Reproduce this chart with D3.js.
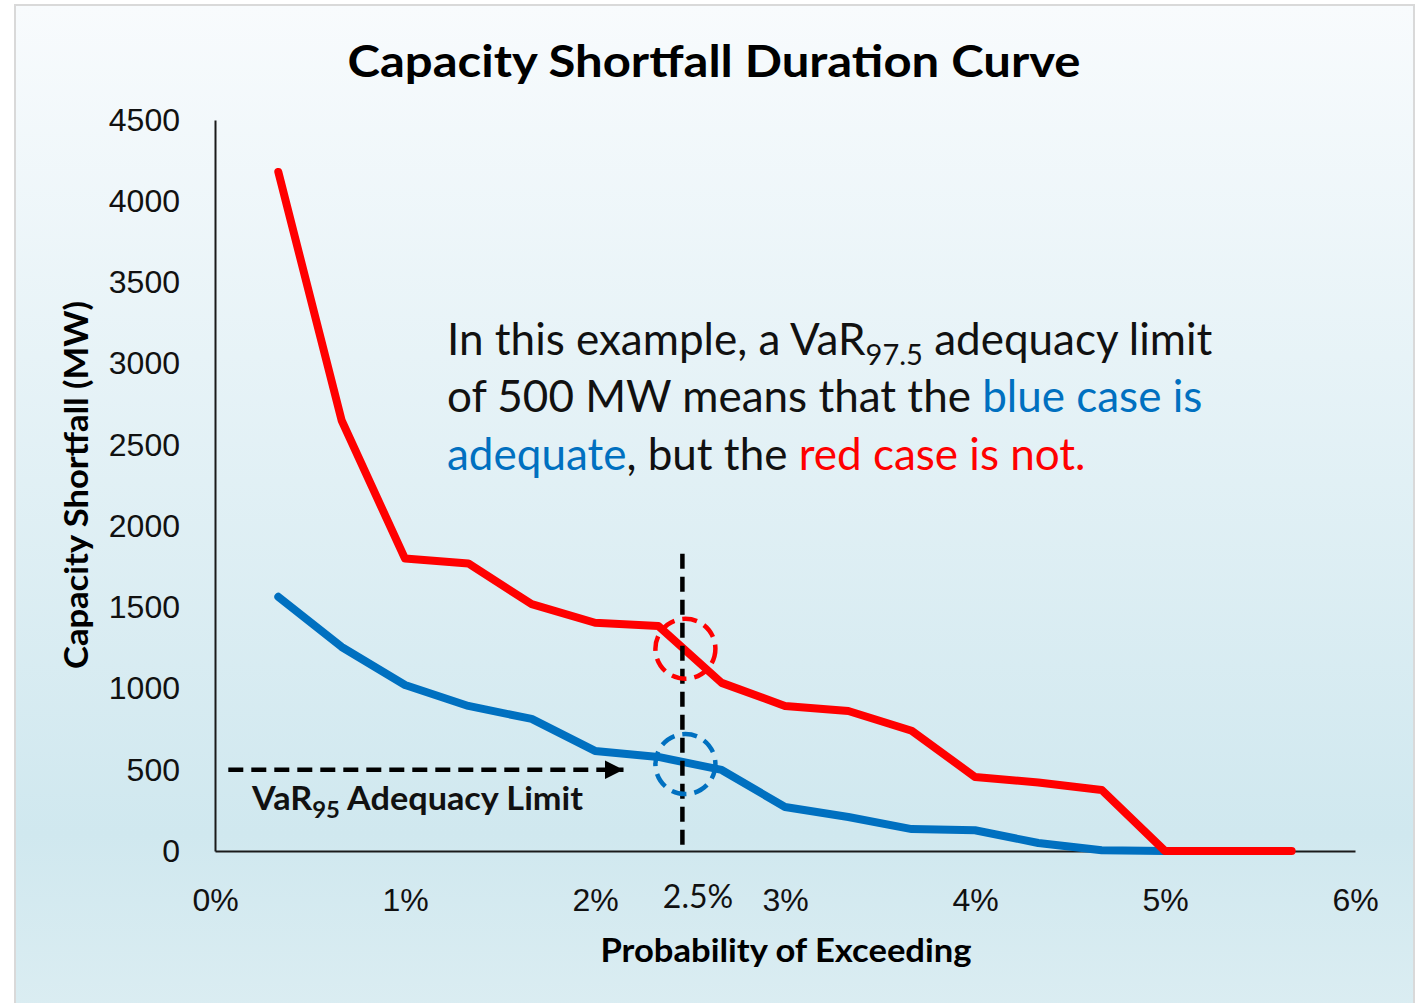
<!DOCTYPE html>
<html>
<head>
<meta charset="utf-8">
<script src="https://cdn.jsdelivr.net/npm/d3@7"></script>
<style>
  body { margin: 0; background: #fff; }
  svg { display: block; font-family: Lato, "Open Sans", sans-serif; }
</style>
</head>
<body>
<div id="chart"></div>
<script>
// probability of exceeding (%) for each point
const probs = [1/3, 2/3, 1, 4/3, 5/3, 2, 7/3, 8/3, 3, 10/3, 11/3, 4, 13/3, 14/3, 5, 16/3, 17/3];
// red case shortfall (MW)
const redValues = [4180, 2650, 1800, 1770, 1520, 1405, 1385, 1035, 893, 862, 740, 456, 422, 376, 0, 0, 0];
// blue case shortfall (MW)
const blueValues = [1565, 1256, 1022, 893, 813, 616, 579, 499, 271, 209, 135, 128, 49, 5, 0];
const yTicks = [0, 500, 1000, 1500, 2000, 2500, 3000, 3500, 4000, 4500];
const xTicks = [0, 1, 2, 3, 4, 5, 6];
const limitValue = 500;      // VaR95 adequacy limit (MW)
const limitProb = 2.46;      // dashed vertical marker
const extraTick = 2.5;

const width = 1419, height = 1003;
const margin = {top: 120, right: 64, bottom: 152, left: 215};
const innerW = width - margin.left - margin.right;
const innerH = height - margin.top - margin.bottom;

const svg = d3.select("#chart").append("svg")
    .attr("width", width)
    .attr("height", height);

const defs = svg.append("defs");
const grad = defs.append("linearGradient")
    .attr("id", "bg")
    .attr("x1", 0).attr("y1", 0).attr("x2", 0).attr("y2", 1);
grad.append("stop").attr("offset", "0%").attr("stop-color", "#f8fbfd");
grad.append("stop").attr("offset", "82%").attr("stop-color", "#d0e8ef");
grad.append("stop").attr("offset", "100%").attr("stop-color", "#dbedf2");

defs.append("marker")
    .attr("id", "arrow")
    .attr("viewBox", "0 0 10 10")
    .attr("refX", 10).attr("refY", 5)
    .attr("markerWidth", 4.2).attr("markerHeight", 4.2)
    .attr("markerUnits", "strokeWidth")
    .attr("orient", "auto")
  .append("path")
    .attr("d", "M0,0L10,5L0,10Z")
    .attr("fill", "#000");

svg.append("rect")
    .attr("x", 15).attr("y", 5)
    .attr("width", 1399).attr("height", 1010)
    .attr("fill", "url(#bg)")
    .attr("stroke", "#d9d9d9")
    .attr("stroke-width", 2);

svg.append("text")
    .attr("x", 714).attr("y", 77)
    .attr("text-anchor", "middle")
    .style("font-size", "44px")
    .style("font-weight", "bold")
    .attr("textLength", 733)
    .attr("lengthAdjust", "spacingAndGlyphs")
    .text("Capacity Shortfall Duration Curve");

const g = svg.append("g")
    .attr("transform", `translate(${margin.left},${margin.top})`);

const x = d3.scaleLinear().domain([0, 6]).range([0, innerW]);
const y = d3.scaleLinear().domain([0, 4500]).range([innerH, 0]);

// axes
const xAxis = g.append("g")
    .attr("class", "x axis")
    .attr("transform", `translate(0,${innerH})`)
    .call(d3.axisBottom(x).tickValues(xTicks).tickSize(0).tickPadding(37)
        .tickFormat(d => d + "%"));
xAxis.select(".domain").attr("stroke", "#1a1a1a").attr("stroke-width", 2);
xAxis.selectAll("text")
    .style("font-size", "32px")
    .attr("fill", "#111");

const yAxis = g.append("g")
    .attr("class", "y axis")
    .call(d3.axisLeft(y).tickValues(yTicks).tickSize(0).tickPadding(35)
        .tickFormat(d3.format("d")));
yAxis.select(".domain").attr("stroke", "#1a1a1a").attr("stroke-width", 2);
yAxis.selectAll("text")
    .style("font-size", "32px")
    .attr("fill", "#111");

// extra 2.5% label
g.append("text")
    .attr("x", x(extraTick) + 8)
    .attr("y", innerH + 57)
    .attr("text-anchor", "middle")
    .style("font-size", "32px")
    .attr("fill", "#111")
    .text(extraTick + "%");

// axis titles
svg.append("text")
    .attr("x", 786).attr("y", 962)
    .attr("text-anchor", "middle")
    .style("font-size", "33px")
    .style("font-weight", "bold")
    .attr("textLength", 371)
    .attr("lengthAdjust", "spacingAndGlyphs")
    .text("Probability of Exceeding");

svg.append("text")
    .attr("transform", "translate(88,485) rotate(-90)")
    .attr("text-anchor", "middle")
    .style("font-size", "33px")
    .style("font-weight", "bold")
    .attr("textLength", 368)
    .attr("lengthAdjust", "spacingAndGlyphs")
    .text("Capacity Shortfall (MW)");

// lines
const line = d3.line()
    .x((d, i) => x(probs[i]))
    .y(d => y(d));

g.append("path")
    .datum(blueValues)
    .attr("d", line)
    .attr("fill", "none")
    .attr("stroke", "#0070c0")
    .attr("stroke-width", 8)
    .attr("stroke-linecap", "round")
    .attr("stroke-linejoin", "round");

g.append("path")
    .datum(redValues)
    .attr("d", line)
    .attr("fill", "none")
    .attr("stroke", "#ff0000")
    .attr("stroke-width", 8)
    .attr("stroke-linecap", "round")
    .attr("stroke-linejoin", "round");

// vertical dashed marker
g.append("line")
    .attr("x1", x(limitProb)).attr("x2", x(limitProb))
    .attr("y1", y(1830)).attr("y2", innerH - 2)
    .attr("stroke", "#000")
    .attr("stroke-width", 4.5)
    .attr("stroke-dasharray", "15,8");

// horizontal limit arrow
g.append("line")
    .attr("x1", x(0.07)).attr("x2", x(2.15))
    .attr("y1", y(limitValue)).attr("y2", y(limitValue))
    .attr("stroke", "#000")
    .attr("stroke-width", 4.5)
    .attr("stroke-dasharray", "15,8")
    .attr("marker-end", "url(#arrow)");

// dashed circles at crossings
const cx = x(limitProb) + 3;
g.append("circle")
    .attr("cx", cx).attr("cy", y(1245))
    .attr("r", 30)
    .attr("fill", "none")
    .attr("stroke", "#ff0000")
    .attr("stroke-width", 4.5)
    .attr("stroke-dasharray", "15,8");
g.append("circle")
    .attr("cx", cx).attr("cy", y(535))
    .attr("r", 30)
    .attr("fill", "none")
    .attr("stroke", "#0070c0")
    .attr("stroke-width", 4.5)
    .attr("stroke-dasharray", "15,8");

// VaR95 label
const varLabel = svg.append("text")
    .attr("x", 252).attr("y", 810)
    .style("font-size", "33px")
    .style("font-weight", "bold")
    .attr("fill", "#111")
    .attr("textLength", 331)
    .attr("lengthAdjust", "spacingAndGlyphs");
varLabel.append("tspan").text("VaR");
varLabel.append("tspan").attr("dy", 8).style("font-size", "23px").text("95");
varLabel.append("tspan").attr("dy", -8).text(" Adequacy Limit");

// annotation
const note = svg.append("text")
    .attr("x", 447)
    .style("font-size", "44px")
    .attr("fill", "#111");
const l1 = note.append("tspan").attr("x", 447).attr("y", 355);
l1.append("tspan").text("In this example, a VaR");
l1.append("tspan").attr("dy", 10).style("font-size", "29px").text("97.5");
l1.append("tspan").attr("dy", -10).text(" adequacy limit");
const l2 = note.append("tspan").attr("x", 447).attr("y", 412);
l2.append("tspan").text("of 500 MW means that the ");
l2.append("tspan").attr("fill", "#0070c0").text("blue case is");
const l3 = note.append("tspan").attr("x", 447).attr("y", 470);
l3.append("tspan").attr("fill", "#0070c0").text("adequate");
l3.append("tspan").text(", but the ");
l3.append("tspan").attr("fill", "#ff0000").text("red case is not.");
</script>
</body>
</html>
